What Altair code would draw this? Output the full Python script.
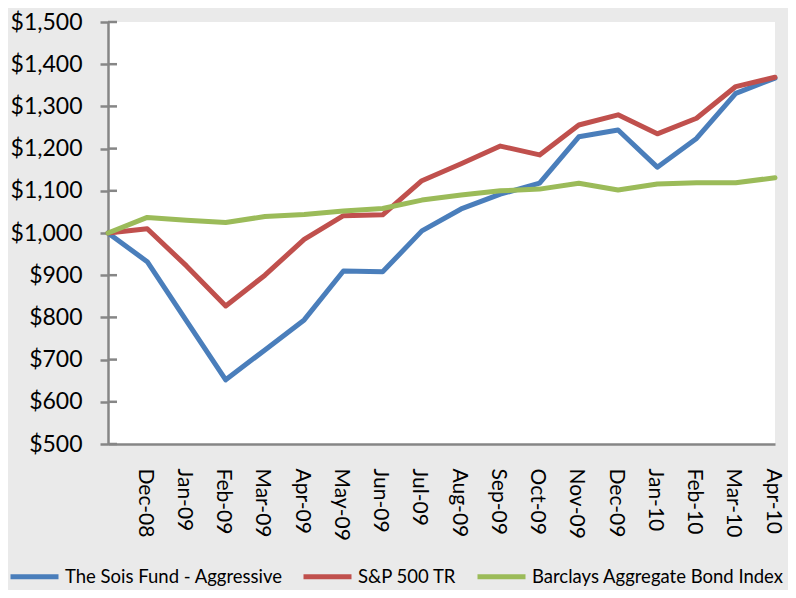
import altair as alt
import pandas as pd

months = ["Nov-08", "Dec-08", "Jan-09", "Feb-09", "Mar-09", "Apr-09", "May-09", "Jun-09",
          "Jul-09", "Aug-09", "Sep-09", "Oct-09", "Nov-09", "Dec-09", "Jan-10", "Feb-10",
          "Mar-10", "Apr-10"]
series_names = ["The Sois Fund - Aggressive", "S&P 500 TR", "Barclays Aggregate Bond Index"]
sois = [1000, 932, 792, 652, 723, 794, 910, 908, 1005, 1057, 1092, 1118, 1228, 1244, 1156, 1224, 1331, 1367]
sp500 = [1000, 1010, 922, 827, 900, 985, 1041, 1043, 1124, 1164, 1206, 1185, 1256, 1280, 1235, 1272, 1347, 1369]
barclays = [1000, 1037, 1030, 1025, 1039, 1044, 1052, 1058, 1078, 1090, 1100, 1104, 1118, 1102, 1116, 1119, 1119, 1131]
y_ticks = [500, 600, 700, 800, 900, 1000, 1100, 1200, 1300, 1400, 1500]
colors = ["#4a7ebb", "#c0504d", "#9bbb59"]

rows = []
for name, vals in zip(series_names, [sois, sp500, barclays]):
    for m, v in zip(months, vals):
        rows.append({"month": m, "value": v, "series": name})
df = pd.DataFrame(rows)
ticks_df = pd.DataFrame({"v": y_ticks})

FONT = "Lato"

x_enc = alt.X("month:N", sort=months,
              scale=alt.Scale(domain=months, padding=0),
              axis=alt.Axis(title=None, labelAngle=90, labelAlign="left", labelBaseline="middle",
                            labelPadding=24, labelOffset=-3, ticks=False, grid=False,
                            labelExpr="datum.value == 'Nov-08' ? '' : datum.value",
                            labelFont=FONT, labelFontSize=21, labelColor="#000000",
                            domainColor="#868686", domainWidth=2.5))
y_scale = alt.Scale(domain=[500, 1500], nice=False, zero=False)

lines = alt.Chart(df).mark_line(strokeWidth=5, strokeCap="round", strokeJoin="round").encode(
    x=x_enc,
    y=alt.Y("value:Q", scale=y_scale,
            axis=alt.Axis(title=None, values=y_ticks, format="$,.0f", grid=False,
                          tickSize=8, tickColor="#868686", tickWidth=2.5,
                          labelPadding=18, labelFont=FONT, labelFontSize=23, labelColor="#000000",
                          domainColor="#868686", domainWidth=2.5)),
    color=alt.Color("series:N", sort=series_names,
                    scale=alt.Scale(domain=series_names, range=colors),
                    legend=alt.Legend(title=None, orient="none", direction="horizontal",
                                      legendX=-100, legendY=528, symbolType="stroke",
                                      symbolSize=2304, symbolStrokeWidth=5,
                                      labelFont=FONT, labelFontSize=18.5, labelColor="#000000",
                                      labelOffset=4, columnPadding=10, labelLimit=400)),
)

inner_ticks = alt.Chart(ticks_df).mark_rule(color="#868686", strokeWidth=2.5).encode(
    y=alt.Y("v:Q", scale=y_scale),
    x=alt.value(0),
    x2=alt.value(9),
)

chart = alt.layer(inner_ticks, lines).properties(
    width=667, height=422,
    autosize=alt.AutoSizeParams(type="none"),
    padding={"left": 100, "top": 14, "right": 13, "bottom": 146},
    background="#eaeaea",
).configure_view(fill="#ffffff", stroke=None)

chart.save("out.html", embed_options={"renderer": "svg", "actions": False})
